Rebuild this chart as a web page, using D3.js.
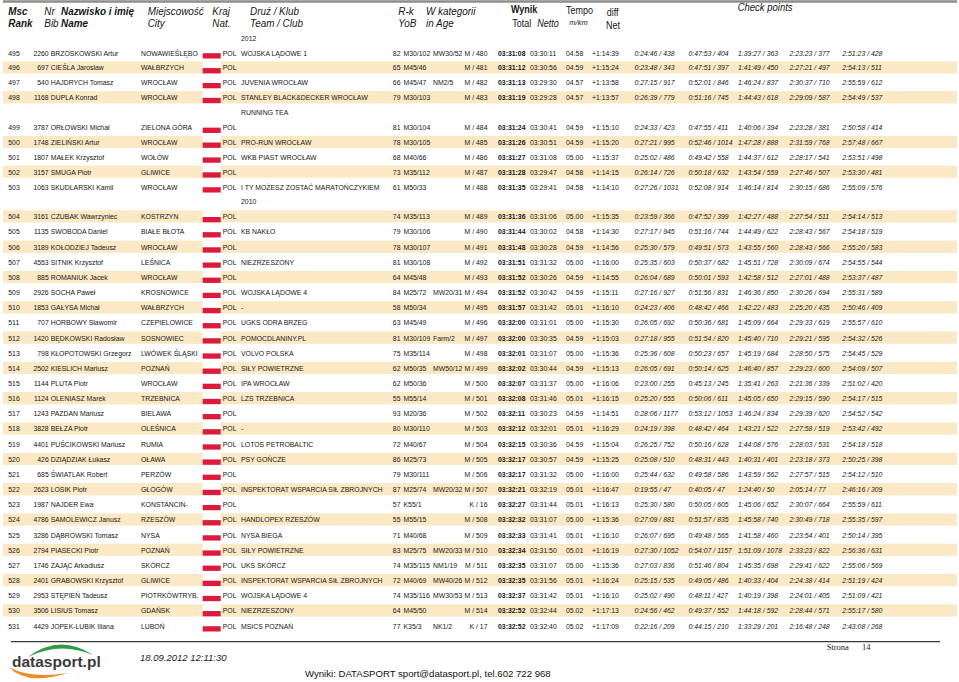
<!DOCTYPE html>
<html><head><meta charset="utf-8">
<script src="https://cdn.jsdelivr.net/npm/d3@7"></script>
<style>html,body{margin:0;padding:0;background:#fff;} svg{display:block;}</style>
</head><body>
<svg id="c" width="959" height="682"></svg>
<script>
// ---------------- DATA ----------------
const headerTop = ["Msc","Nr","Nazwisko i imię","Miejscowość","Kraj","Druż / Klub","R-k","W kategorii","Wynik","Tempo","diff","Check points"];
const headerBottom = ["Rank","Bib","Name","City","Nat.","Team / Club","YoB","in Age","Total","Netto","m/km","Net"];
const carriedTeamText = "2012";
const ranks = [495,496,497,498,499,500,501,502,503,504,505,506,507,508,509,510,511,512,513,514,515,516,517,518,519,520,521,522,523,524,525,526,527,528,529,530,531];
const bibs = [2260,697,540,1168,3787,1748,1807,3157,1063,3161,1135,3189,4553,885,2926,1853,707,1420,798,2502,1144,1124,1243,3828,4401,426,685,2623,1987,4786,3286,2794,1746,2401,2953,3506,4429];
const names = ["BRZOSKOWSKI Artur","CIEŚLA Jarosław","HAJDRYCH Tomasz","DUPLA Konrad","ORŁOWSKI Michał","ZIELIŃSKI Artur","MAŁEK Krzysztof","SMUGA Piotr","SKUDLARSKI Kamil","CZUBAK Wawrzyniec","SWOBODA Daniel","KOŁODZIEJ Tadeusz","SITNIK Krzysztof","ROMANIUK Jacek","SOCHA Paweł","GAŁYSA Michał","HORBOWY Sławomir","BĘDKOWSKI Radosław","KŁOPOTOWSKI Grzegorz","KIESLICH Mariusz","PLUTA Piotr","OLENIASZ Marek","PAZDAN Mariusz","BEŁZA Piotr","PUŚCIKOWSKI Mariusz","DZIĄDZIAK Łukasz","ŚWIATLAK Robert","LOSIK Piotr","NAJDER Ewa","SAMOLEWICZ Janusz","DĄBROWSKI Tomasz","PIASECKI Piotr","ZAJĄC Arkadiusz","GRABOWSKI Krzysztof","STĘPIEŃ Tadeusz","LISIUS Tomasz","JOPEK-LUBIK Iliana"];
const cities = ["NOWAWIEŚLĘBO","WAŁBRZYCH","WROCŁAW","WROCŁAW","ZIELONA GÓRA","WROCŁAW","WOŁÓW","GLIWICE","WROCŁAW","KOSTRZYN","BIAŁE BŁOTA","WROCŁAW","LEŚNICA","WROCŁAW","KROSNOWICE","WAŁBRZYCH","CZEPIELOWICE","SOSNOWIEC","LWÓWEK ŚLĄSKI","POZNAŃ","WROCŁAW","TRZEBNICA","BIELAWA","OLEŚNICA","RUMIA","OŁAWA","PERZÓW","GŁOGÓW","KONSTANCIN-","RZESZÓW","NYSA","POZNAŃ","SKÓRCZ","GLIWICE","PIOTRKÓWTRYB.","GDAŃSK","LUBOŃ"];
const nations = ["POL","POL","POL","POL","POL","POL","POL","POL","POL","POL","POL","POL","POL","POL","POL","POL","POL","POL","POL","POL","POL","POL","POL","POL","POL","POL","POL","POL","POL","POL","POL","POL","POL","POL","POL","POL","POL"];
const teams = ["WOJSKA LĄDOWE 1","","JUVENIA WROCŁAW","STANLEY BLACK&DECKER WROCŁAW","","PRO-RUN WROCŁAW","WKB PIAST WROCŁAW","","I TY MOŻESZ ZOSTAĆ MARATOŃCZYKIEM","","KB NAKŁO","","NIEZRZESZONY","","WOJSKA LĄDOWE 4","-","UGKS ODRA BRZEG","POMOCDLANINY.PL","VOLVO POLSKA","SIŁY POWIETRZNE","IPA WROCŁAW","LZS TRZEBNICA","","-","LOTOS PETROBALTIC","PSY GOŃCZE","","INSPEKTORAT WSPARCIA SIŁ ZBROJNYCH","","HANDLOPEX RZESZÓW","NYSA BIEGA","SIŁY POWIETRZNE","UKS SKÓRCZ","INSPEKTORAT WSPARCIA SIŁ ZBROJNYCH","WOJSKA LĄDOWE 4","NIEZRZESZONY","MSICS POZNAŃ"];
const teamsContinued = ["","","","RUNNING TEA","","","","","2010","","","","","","","","","","","","","","","","","","","","","","","","","","","",""];
const yobs = [82,65,66,79,81,78,68,73,61,74,79,78,81,64,84,58,63,81,75,62,62,55,93,80,72,86,79,87,57,55,71,83,74,72,74,64,77];
const categories = ["M30/102","M45/46","M45/47","M30/103","M30/104","M30/105","M40/66","M35/112","M50/33","M35/113","M30/106","M30/107","M30/108","M45/48","M25/72","M50/34","M45/49","M30/109","M35/114","M50/35","M50/36","M55/14","M20/36","M30/110","M40/67","M25/73","M30/111","M25/74","K55/1","M55/15","M40/68","M25/75","M35/115","M40/69","M35/116","M45/50","K35/3"];
const classes = ["MW30/52","","NM2/5","","","","","","","","","","","","MW20/31","","","Farm/2","","MW50/12","","","","","","","","MW20/32","","","","MW20/33","NM1/19","MW40/26","MW30/53","","NK1/2"];
const sexRanks = ["M / 480","M / 481","M / 482","M / 483","M / 484","M / 485","M / 486","M / 487","M / 488","M / 489","M / 490","M / 491","M / 492","M / 493","M / 494","M / 495","M / 496","M / 497","M / 498","M / 499","M / 500","M / 501","M / 502","M / 503","M / 504","M / 505","M / 506","M / 507","K / 16","M / 508","M / 509","M / 510","M / 511","M / 512","M / 513","M / 514","K / 17"];
const totals = ["03:31:08","03:31:12","03:31:13","03:31:19","03:31:24","03:31:26","03:31:27","03:31:28","03:31:35","03:31:36","03:31:44","03:31:48","03:31:51","03:31:52","03:31:52","03:31:57","03:32:00","03:32:00","03:32:01","03:32:02","03:32:07","03:32:08","03:32:11","03:32:12","03:32:15","03:32:17","03:32:17","03:32:21","03:32:27","03:32:32","03:32:33","03:32:34","03:32:35","03:32:35","03:32:37","03:32:52","03:32:52"];
const nettos = ["03:30:11","03:30:56","03:29:30","03:29:28","03:30:41","03:30:51","03:31:08","03:29:47","03:29:41","03:31:06","03:30:02","03:30:28","03:31:32","03:30:26","03:30:42","03:31:42","03:31:01","03:30:35","03:31:07","03:30:44","03:31:37","03:31:46","03:30:23","03:32:01","03:30:36","03:30:57","03:31:32","03:32:19","03:31:44","03:31:07","03:31:41","03:31:50","03:31:07","03:31:56","03:31:42","03:32:44","03:32:40"];
const tempos = ["04.58","04.59","04.57","04.57","04.59","04.59","05.00","04.58","04.58","05.00","04.58","04.59","05.00","04.59","04.59","05.01","05.00","04.59","05.00","04.59","05.00","05.01","04.59","05.01","04.59","04.59","05.00","05.01","05.01","05.00","05.01","05.01","05.00","05.01","05.01","05.02","05.02"];
const diffs = ["+1:14:39","+1:15:24","+1:13:58","+1:13:57","+1:15:10","+1:15:20","+1:15:37","+1:14:15","+1:14:10","+1:15:35","+1:14:30","+1:14:56","+1:16:00","+1:14:55","+1:15:11","+1:16:10","+1:15:30","+1:15:03","+1:15:36","+1:15:13","+1:16:06","+1:16:15","+1:14:51","+1:16:29","+1:15:04","+1:15:25","+1:16:00","+1:16:47","+1:16:13","+1:15:36","+1:16:10","+1:16:19","+1:15:36","+1:16:24","+1:16:10","+1:17:13","+1:17:09"];
const checkpoint1 = ["0:24:46 / 438","0:23:48 / 343","0:27:15 / 917","0:26:39 / 779","0:24:33 / 423","0:27:21 / 995","0:25:02 / 486","0:26:14 / 726","0:27:26 / 1031","0:23:59 / 366","0:27:17 / 945","0:25:30 / 579","0:25:35 / 603","0:26:04 / 689","0:27:16 / 927","0:24:23 / 406","0:26:05 / 692","0:27:18 / 955","0:25:36 / 608","0:26:05 / 691","0:23:00 / 255","0:25:20 / 555","0:28:06 / 1177","0:24:19 / 398","0:26:25 / 752","0:25:08 / 510","0:25:44 / 632","0:19:55 / 47","0:25:30 / 580","0:27:09 / 881","0:26:07 / 695","0:27:30 / 1052","0:27:03 / 836","0:25:15 / 535","0:25:02 / 490","0:24:56 / 462","0:22:16 / 209"];
const checkpoint2 = ["0:47:53 / 404","0:47:51 / 397","0:52:01 / 846","0:51:16 / 745","0:47:55 / 411","0:52:46 / 1014","0:49:42 / 558","0:50:18 / 632","0:52:08 / 914","0:47:52 / 399","0:51:16 / 744","0:49:51 / 573","0:50:37 / 682","0:50:01 / 593","0:51:56 / 831","0:48:42 / 466","0:50:36 / 681","0:51:54 / 820","0:50:23 / 657","0:50:14 / 625","0:45:13 / 245","0:50:06 / 611","0:53:12 / 1053","0:48:42 / 464","0:50:16 / 628","0:48:31 / 443","0:49:58 / 586","0:40:05 / 47","0:50:05 / 605","0:51:57 / 835","0:49:48 / 565","0:54:07 / 1157","0:51:46 / 804","0:49:05 / 486","0:48:11 / 427","0:49:37 / 552","0:44:15 / 210"];
const checkpoint3 = ["1:39:27 / 363","1:41:49 / 450","1:46:24 / 837","1:44:43 / 618","1:40:06 / 394","1:47:28 / 888","1:44:37 / 612","1:43:54 / 559","1:46:14 / 814","1:42:27 / 488","1:44:49 / 622","1:43:55 / 560","1:45:51 / 728","1:42:58 / 512","1:46:36 / 850","1:42:22 / 483","1:45:09 / 664","1:45:40 / 710","1:45:19 / 684","1:46:40 / 857","1:35:41 / 263","1:45:05 / 650","1:46:24 / 834","1:43:21 / 522","1:44:08 / 576","1:40:31 / 401","1:43:59 / 562","1:24:40 / 50","1:45:06 / 652","1:45:58 / 740","1:41:58 / 460","1:51:09 / 1078","1:45:35 / 698","1:40:33 / 404","1:40:19 / 398","1:44:18 / 592","1:33:29 / 201"];
const checkpoint4 = ["2:23:23 / 377","2:27:21 / 497","2:30:37 / 710","2:29:09 / 587","2:23:28 / 381","2:31:59 / 768","2:28:17 / 541","2:27:46 / 507","2:30:15 / 686","2:27:54 / 511","2:28:43 / 567","2:28:43 / 566","2:30:09 / 674","2:27:01 / 488","2:30:26 / 694","2:25:20 / 435","2:29:33 / 619","2:29:21 / 595","2:28:50 / 575","2:29:23 / 600","2:21:36 / 339","2:29:15 / 590","2:29:39 / 620","2:27:58 / 519","2:28:03 / 531","2:23:18 / 373","2:27:57 / 515","2:05:14 / 77","2:30:07 / 664","2:30:49 / 718","2:23:54 / 401","2:33:23 / 822","2:29:41 / 622","2:24:38 / 414","2:24:01 / 405","2:28:44 / 571","2:16:48 / 248"];
const checkpoint5 = ["2:51:23 / 428","2:54:13 / 511","2:55:59 / 612","2:54:49 / 537","2:50:58 / 414","2:57:48 / 667","2:53:51 / 498","2:53:30 / 481","2:55:09 / 576","2:54:14 / 513","2:54:18 / 519","2:55:20 / 583","2:54:55 / 544","2:53:37 / 487","2:55:31 / 589","2:50:46 / 409","2:55:57 / 610","2:54:32 / 526","2:54:45 / 529","2:54:09 / 507","2:51:02 / 420","2:54:17 / 515","2:54:52 / 542","2:53:42 / 492","2:54:18 / 518","2:50:25 / 398","2:54:12 / 510","2:46:16 / 309","2:55:59 / 611","2:55:35 / 597","2:50:14 / 395","2:56:36 / 631","2:55:06 / 569","2:51:19 / 424","2:51:09 / 421","2:55:17 / 580","2:43:08 / 268"];
const footerDate = "18.09.2012 12:11:30";
const footerContact = "Wyniki: DATASPORT sport@datasport.pl, tel.602 722 968";
const pageLabel = "Strona";
const pageNumber = "14";

// ---------------- DRAW ----------------
const svg = d3.select("#c");
const FONT = "'Liberation Sans', Arial, Helvetica, sans-serif";
const INK = "#161616";

function label(g, x, y, s, o) {
  o = o || {};
  return g.append("text")
    .attr("transform", `translate(${x},${y}) scale(${o.sx || 0.86},1)`)
    .attr("dy", "0.35em")
    .attr("text-anchor", o.anchor || "start")
    .style("font-family", o.family || FONT)
    .style("font-size", (o.size || 8) + "px")
    .style("font-weight", o.bold ? "bold" : "normal")
    .style("font-style", o.italic ? "italic" : "normal")
    .style("fill", o.fill || INK)
    .text(s);
}

// build line layout (data rows + continuation lines)
const lines = [{kind: "cont", text: carriedTeamText}];
ranks.forEach((r, i) => {
  lines.push({kind: "row", i});
  if (teamsContinued[i]) lines.push({kind: "cont", text: teamsContinued[i]});
});
const y = d3.scaleLinear().domain([1, 12, lines.length - 1]).range([52.7, 216.5, 625.7]);

// column positions
const colKeys = ["rank","bib","name","city","flag","nat","team","yob","cat","cls","sex","total","netto","tempo","diff","cp1","cp2","cp3","cp4","cp5"];
const colPos  = [8.3, 48.7, 50.7, 141, 202.7, 222.7, 241, 400.5, 403.5, 433, 487.5, 498, 530, 566, 592, 634.5, 688.5, 738, 789.5, 842.3];
const x = d3.scaleOrdinal().domain(colKeys).range(colPos);

// top rule
svg.append("line").attr("x1", 3).attr("x2", 957).attr("y1", 1.5).attr("y2", 1.5)
  .attr("stroke", "#8c8c8c").attr("stroke-width", 2.5);

// header
const hdr = svg.append("g");
const hTopPos = [[8.3,11],[44.3,11],[61,11],[147.7,11],[212.3,11],[250,11],[398.3,11],[426,11],[511,9.5],[566,10],[606.7,12],[737.7,7.5]];
const hTopStyle = [{bold:1,italic:1},{italic:1},{bold:1,italic:1},{italic:1},{italic:1},{italic:1},{italic:1},{italic:1},{bold:1,size:10},{size:10},{size:10},{italic:1,size:10,sx:0.95}];
headerTop.forEach((s, k) => label(hdr, hTopPos[k][0], hTopPos[k][1], s, Object.assign({size: 11, sx: 0.9}, hTopStyle[k])));
const hBotPos = [[8.3,22.7],[44.3,22.7],[61,22.7],[147.7,22.7],[212.3,22.7],[250,22.7],[398.3,22.7],[426,22.7],[512.3,23],[537.3,23],[569.3,22.3],[606,25]];
const hBotStyle = [{bold:1,italic:1},{italic:1},{bold:1,italic:1},{italic:1},{italic:1},{italic:1},{italic:1},{italic:1},{size:10},{italic:1,size:10},{italic:1,size:7.5,sx:1},{size:10}];
headerBottom.forEach((s, k) => label(hdr, hBotPos[k][0], hBotPos[k][1], s, Object.assign({size: 11, sx: 0.9}, hBotStyle[k])));

// rows
const body = svg.append("g");
lines.forEach((ln, li) => {
  const yc = y(li);
  if (ln.kind === "cont") {
    label(body, x("team"), yc, ln.text);
    return;
  }
  const i = ln.i;
  const g = body.append("g");
  if (ranks[i] % 2 === 0) {
    g.append("rect").attr("x", 3).attr("y", yc - 6.2).attr("width", 954).attr("height", 12.2).attr("fill", "#fbe8c5");
  }
  // flag
  g.append("rect").attr("x", x("flag")).attr("y", yc - 6).attr("width", 18).attr("height", 6.5).attr("fill", "#ffffff");
  g.append("rect").attr("x", x("flag")).attr("y", yc + 0.5).attr("width", 18).attr("height", 5.3).attr("fill", "#dc1a3e");

  label(g, x("rank"), yc, ranks[i]);
  label(g, x("bib"), yc, bibs[i], {anchor: "end"});
  label(g, x("name"), yc, names[i]);
  label(g, x("city"), yc, cities[i]);
  label(g, x("nat"), yc, nations[i]);
  if (teams[i]) label(g, x("team"), yc, teams[i]);
  label(g, x("yob"), yc, yobs[i], {anchor: "end"});
  label(g, x("cat"), yc, categories[i]);
  if (classes[i]) label(g, x("cls"), yc, classes[i]);
  label(g, x("sex"), yc, sexRanks[i], {anchor: "end"});
  label(g, x("total"), yc, totals[i], {bold: 1});
  label(g, x("netto"), yc, nettos[i]);
  label(g, x("tempo"), yc, tempos[i]);
  label(g, x("diff"), yc, diffs[i]);
  [checkpoint1, checkpoint2, checkpoint3, checkpoint4, checkpoint5].forEach((cp, k) =>
    label(g, x("cp" + (k + 1)), yc, cp[i], {italic: 1}));
});

// footer rule
svg.append("line").attr("x1", 11).attr("x2", 940).attr("y1", 641.7).attr("y2", 641.7)
  .attr("stroke", "#3a3a3a").attr("stroke-width", 1.2);

// logo
const logo = svg.append("g");
logo.append("path").attr("d", "M28,657 Q60,633 93,655 Q60,641 28,657 Z").attr("fill", "#2f9a45");
logo.append("path").attr("d", "M9,667 Q26,686 68,673 Q30,679 9,667 Z").attr("fill", "#f08a2a");
logo.append("text").attr("x", 12).attr("y", 666.5)
  .style("font-family", FONT).style("font-weight", "bold").style("font-size", "15.5px")
  .style("fill", "#3b3b3b").text("datasport.pl");

label(svg, 140, 658, footerDate, {italic: 1, size: 9.5, sx: 1, fill: "#222"});
label(svg, 305, 674, footerContact, {size: 9.6, sx: 1, fill: "#111"});
label(svg, 826.7, 647, pageLabel, {size: 8.5, sx: 1, family: "'Liberation Serif', 'Times New Roman', serif", fill: "#222"});
label(svg, 862, 647, pageNumber, {size: 8.5, sx: 1, family: "'Liberation Serif', 'Times New Roman', serif", fill: "#222"});
</script>
</body></html>
